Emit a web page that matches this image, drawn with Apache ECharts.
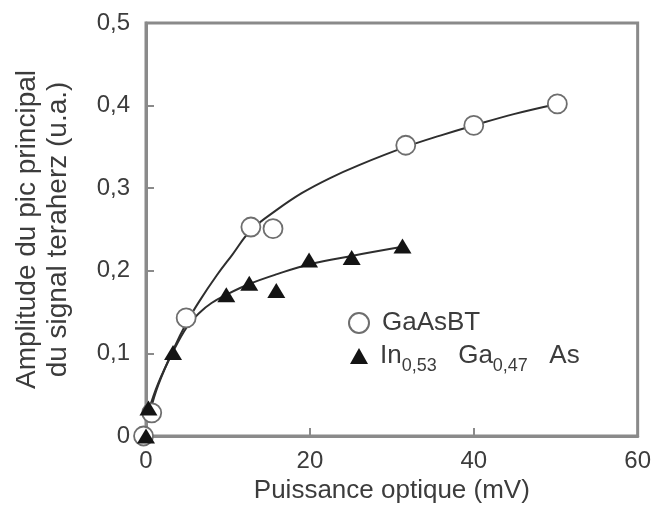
<!DOCTYPE html>
<html><head><meta charset="utf-8">
<script src="https://cdn.jsdelivr.net/npm/echarts@6/dist/echarts.min.js"></script>
<style>html,body{margin:0;padding:0;background:#fff}#c{width:654px;height:510px}</style>
</head><body><div id="c"></div>
<script>
// Measured points
const gaasX = [-0.3, 0.7, 4.9, 12.8, 15.5, 31.7, 40, 50.2];
const gaasY = [0, 0.028, 0.143, 0.253, 0.251, 0.352, 0.376, 0.402];
const inX = [0, 0.3, 3.3, 9.8, 12.6, 15.9, 19.9, 25.1, 31.3];
const inY = [0, 0.034, 0.101, 0.171, 0.185, 0.176, 0.213, 0.216, 0.230];
// Fitted curves
const gaasFitX = [0.5, 1.5, 3.3, 5, 6.5, 8.6, 10.5, 12.8, 16, 19, 22.4, 26, 31.7, 36, 40, 45, 50.2];
const gaasFitY = [0.03, 0.062, 0.104, 0.138, 0.163, 0.194, 0.219, 0.249, 0.274, 0.294, 0.312, 0.328, 0.350, 0.364, 0.376, 0.390, 0.402];
const inFitX = [0.3, 1.5, 3.3, 5, 6.5, 8, 9.8, 12.6, 16, 20, 25.1, 31.3];
const inFitY = [0.03, 0.064, 0.102, 0.132, 0.149, 0.161, 0.171, 0.184, 0.196, 0.208, 0.218, 0.229];
const xTicks = [0, 20, 40, 60];
const yTicks = [0, 0.1, 0.2, 0.3, 0.4, 0.5];

const zip = (a, b) => a.map((v, i) => [v, b[i]]);
const FONT = 'Liberation Sans';
const TXT = '#3c3c3c';
const AX = '#8a8a8a';

const chart = echarts.init(document.getElementById('c'));
chart.setOption({
  animation: false,
  backgroundColor: '#fff',
  grid: { left: 146, top: 23, right: 14, bottom: 74, show: true, borderColor: AX, borderWidth: 3 },
  xAxis: {
    type: 'value', min: xTicks[0], max: xTicks[xTicks.length - 1], interval: 20,
    name: 'Puissance optique (mV)', nameLocation: 'middle', nameGap: 42,
    nameTextStyle: { fontFamily: FONT, fontSize: 26, color: TXT },
    axisLine: { show: true, lineStyle: { color: AX, width: 3 } },
    axisTick: { show: true, inside: true, length: 8, lineStyle: { color: AX, width: 2 } },
    axisLabel: { fontFamily: FONT, fontSize: 24, color: TXT, margin: 13 },
    splitLine: { show: false }
  },
  yAxis: {
    type: 'value', min: yTicks[0], max: yTicks[yTicks.length - 1], interval: 0.1,
    name: 'Amplitude du pic principal\ndu signal teraherz (u.a.)', nameLocation: 'middle', nameGap: 72,
    nameTextStyle: { fontFamily: FONT, fontSize: 28, color: TXT, lineHeight: 31 },
    axisLine: { show: true, lineStyle: { color: AX, width: 3 } },
    axisTick: { show: true, inside: true, length: 8, lineStyle: { color: AX, width: 2 } },
    axisLabel: { fontFamily: FONT, fontSize: 24, color: TXT, margin: 16,
      formatter: v => v === 0 ? '0' : v.toFixed(1).replace('.', ',') },
    splitLine: { show: false }
  },
  legend: [
    { data: [{ name: 'GaAsBT', icon: 'circle' }], orient: 'vertical', left: 348, top: 310, padding: 0,
      itemWidth: 20, itemHeight: 20, selectedMode: false,
      formatter: n => '{a|' + n + '}',
      textStyle: { fontFamily: FONT, fontSize: 26, color: TXT,
        rich: { a: { fontFamily: FONT, fontSize: 26, color: TXT, lineHeight: 32, padding: [0, 0, 0, 8] } } } },
    { data: [{ name: 'InGaAs', icon: 'triangle' }], orient: 'vertical', left: 350, top: 337, padding: 0,
      itemWidth: 18, itemHeight: 16, selectedMode: false,
      formatter: () => '{a|In}{s|0,53}{a|  Ga}{s|0,47}{a|  As}',
      textStyle: { fontFamily: FONT, fontSize: 26, color: TXT,
        rich: {
          a: { fontFamily: FONT, fontSize: 26, color: TXT, lineHeight: 32, padding: [0, 0, 0, 7] },
          s: { fontFamily: FONT, fontSize: 18, color: TXT, lineHeight: 32, padding: [20, 0, 0, 0] }
        } } }
  ],
  series: [
    { name: 'gaasFit', type: 'line', data: zip(gaasFitX, gaasFitY), smooth: 0.4, showSymbol: false,
      lineStyle: { color: '#2e2e2e', width: 2 }, z: 2, silent: true },
    { name: 'inFit', type: 'line', data: zip(inFitX, inFitY), smooth: 0.4, showSymbol: false,
      lineStyle: { color: '#2e2e2e', width: 2 }, z: 2, silent: true },
    { name: 'GaAsBT', type: 'scatter', data: zip(gaasX, gaasY), symbol: 'circle', symbolSize: 19, clip: false,
      itemStyle: { color: '#fff', borderColor: '#6e6e6e', borderWidth: 1.8, opacity: 1 }, z: 4 },
    { name: 'InGaAs', type: 'scatter', data: zip(inX, inY), symbol: 'triangle', symbolSize: [18, 15], clip: false,
      itemStyle: { color: '#141414', opacity: 1 }, z: 5 }
  ]
});
</script></body></html>
